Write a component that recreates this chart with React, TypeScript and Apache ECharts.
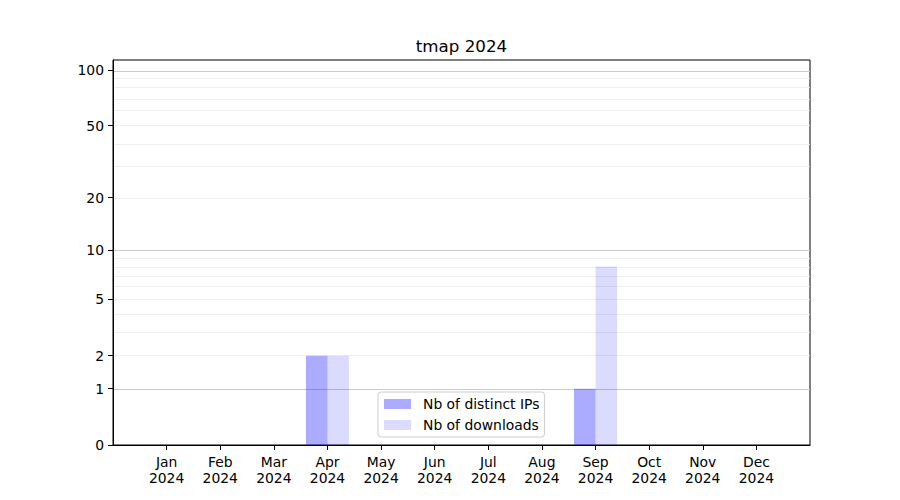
import React, { useEffect, useRef } from "react";
import * as echarts from "echarts";

const months = ["Jan", "Feb", "Mar", "Apr", "May", "Jun", "Jul", "Aug", "Sep", "Oct", "Nov", "Dec"];
const year = "2024";
const distinctIPs = [0, 0, 0, 2, 0, 0, 0, 0, 1, 0, 0, 0];
const downloads = [0, 0, 0, 2, 0, 0, 0, 0, 8, 0, 0, 0];
const yTicks = [0, 1, 2, 5, 10, 20, 50, 100];
const majorGrid = [1, 10, 100];
const minorGrid = [2, 3, 4, 5, 6, 7, 8, 9, 20, 30, 40, 50, 60, 70, 80, 90];
const yMaxRaw = 113.2;

const tf = (v: number) => Math.log10(1 + v);
const FONT = "DejaVu Sans";

export default function App() {
  const ref = useRef<HTMLDivElement>(null);
  useEffect(() => {
    document.body.style.margin = "0";
    const chart = echarts.init(ref.current!, null, { renderer: "svg" });
    const cats = ["", ...months.map((m) => `${m}\n${year}`), ""];
    const pad = (arr: number[]) => [null, ...arr.map(tf), null];
    const gridLines = [
      ...minorGrid.map((v) => ({ yAxis: tf(v), lineStyle: { color: "#ebebeb", width: 0.8, type: "solid" } })),
      ...majorGrid.map((v) => ({ yAxis: tf(v), lineStyle: { color: "#cbcbcb", width: 1, type: "solid" } })),
    ];
    chart.setOption({
      animation: false,
      textStyle: { fontFamily: FONT },
      grid: { left: 113, right: 90, top: 60, bottom: 55, show: true, borderColor: "#000", borderWidth: 1, backgroundColor: "transparent" },
      graphic: [
        {
          type: "text",
          x: 461.5,
          y: 46,
          style: { text: "tmap " + year, fontFamily: FONT, fontSize: 16.7, fill: "#000", textAlign: "center", textVerticalAlign: "middle" },
        },
      ],
      legend: {
        data: ["Nb of distinct IPs", "Nb of downloads"],
        orient: "vertical",
        left: 378,
        top: 392,
        padding: [5, 5, 5, 6],
        itemWidth: 27,
        itemHeight: 10,
        itemGap: 7,
        icon: "rect",
        borderColor: "#cccccc",
        borderWidth: 1,
        borderRadius: 3,
        backgroundColor: "rgba(255,255,255,0.8)",
        textStyle: { fontFamily: FONT, fontSize: 13.9, color: "#000", padding: [0, 0, 0, 7] },
      },
      xAxis: {
        type: "category",
        data: cats,
        boundaryGap: false,
        axisLine: { lineStyle: { color: "#000", width: 1 } },
        axisTick: {
          show: true,
          length: 5,
          inside: false,
          interval: (i: number) => i > 0 && i < cats.length - 1,
          lineStyle: { color: "#000" },
        },
        axisLabel: { interval: 0, fontFamily: FONT, fontSize: 13.9, color: "#000", lineHeight: 16, margin: 9 },
        splitLine: { show: false },
      },
      yAxis: {
        type: "value",
        min: 0,
        max: tf(yMaxRaw),
        axisLine: { show: true, lineStyle: { color: "#000", width: 1 } },
        axisTick: { show: true, length: 5, customValues: yTicks.map(tf), lineStyle: { color: "#000" } },
        axisLabel: {
          customValues: yTicks.map(tf),
          formatter: (v: number) => String(Math.round(Math.pow(10, v) - 1)),
          fontFamily: FONT,
          fontSize: 13.9,
          color: "#000",
          margin: 9,
        },
        splitLine: { show: false },
      },
      series: [
        {
          name: "grid",
          type: "line",
          data: [],
          z: 0,
          silent: true,
          markLine: { silent: true, symbol: "none", label: { show: false }, z: 0, data: gridLines },
        },
        {
          name: "Nb of distinct IPs",
          type: "bar",
          data: pad(distinctIPs),
          barWidth: 21.5,
          barGap: "0%",
          z: 2,
          itemStyle: { color: "rgba(0,0,255,0.33)" },
        },
        {
          name: "Nb of downloads",
          type: "bar",
          data: pad(downloads),
          barWidth: 21.5,
          barGap: "0%",
          z: 2,
          itemStyle: { color: "rgba(0,0,255,0.14)" },
        },
      ],
    });
    return () => chart.dispose();
  }, []);
  return <div ref={ref} style={{ width: 900, height: 500 }} />;
}
